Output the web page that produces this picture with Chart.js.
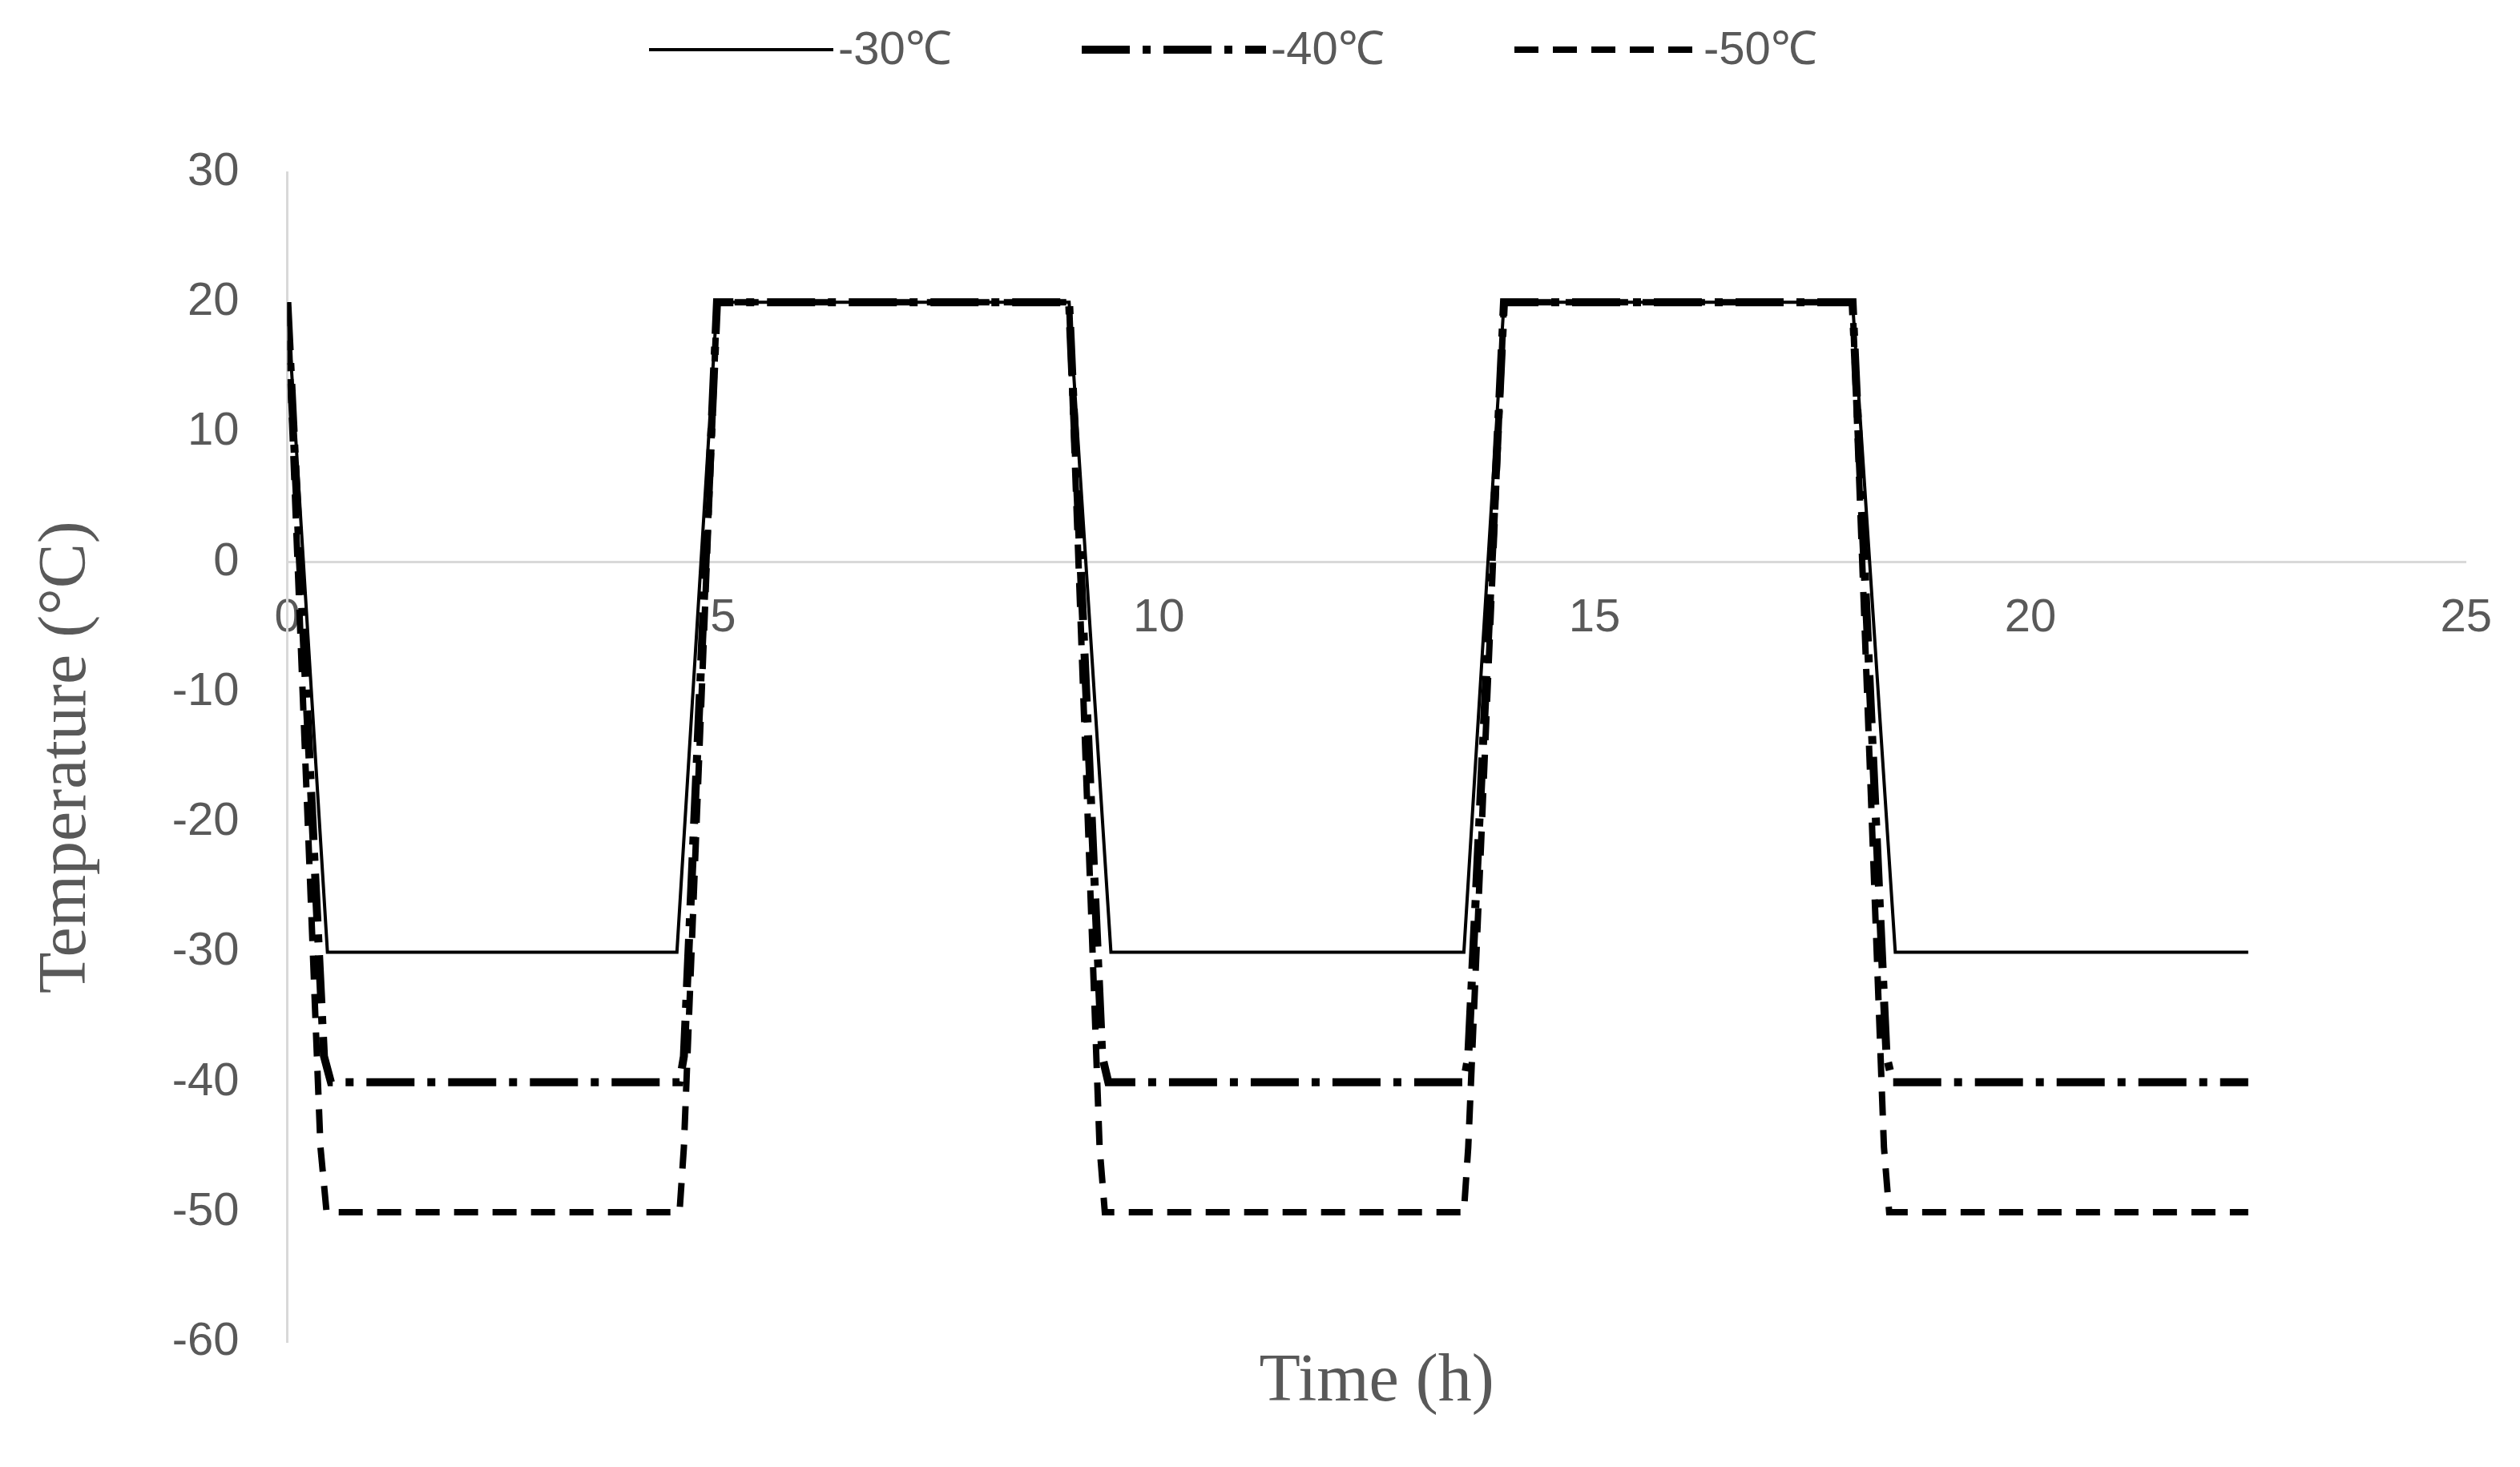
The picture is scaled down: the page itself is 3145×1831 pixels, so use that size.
<!DOCTYPE html>
<html><head><meta charset="utf-8">
<script src="https://cdn.jsdelivr.net/npm/chart.js@4"></script>
<style>html,body{margin:0;background:#fff}#w{width:3145px;height:1831px}</style>
</head><body><div id="w"><canvas id="c"></canvas></div>
<script>
const labels30 = ["-30℃"], labels40 = ["-40℃"], labels50 = ["-50℃"];
const t30 = [0,0.46,4.47,4.93,8.97,9.45,13.5,13.96,17.96,18.45,22.5];
const v30 = [20,-30,-30,20,20,-30,-30,20,20,-30,-30];
const t40 = [0,0.42,0.5,4.5,4.55,4.93,8.97,9.35,9.42,13.5,13.55,13.96,17.96,18.35,18.42,22.5];
const v40 = [20,-38,-40,-40,-38,20,20,-38,-40,-40,-38,20,20,-38,-40,-40];
const t50 = [0,0.38,0.45,4.5,4.55,4.93,8.97,9.32,9.38,13.5,13.55,13.96,17.96,18.32,18.38,22.5];
const v50 = [20,-45,-50,-50,-45,20,20,-45,-50,-50,-45,20,20,-45,-50,-50];
const pts=(t,v)=>t.map((x,i)=>({x,y:v[i]}));
const grey='#595959';
const legendPos=[810,1350,1890];
const legendPlugin={id:'lg',afterDraw(chart){
 const ctx=chart.ctx;ctx.save();
 chart.data.datasets.forEach((ds,i)=>{
  const x=legendPos[i],y=62;
  ctx.strokeStyle=ds.borderColor;ctx.lineWidth=ds.borderWidth;ctx.setLineDash(ds.borderDash||[]);
  ctx.beginPath();ctx.moveTo(x,y);ctx.lineTo(x+230,y);ctx.stroke();
  ctx.setLineDash([]);ctx.fillStyle=grey;ctx.font='58px "Liberation Sans"';ctx.textBaseline='middle';
  ctx.fillText(ds.label,x+236,y+2);
 });ctx.restore();}};
new Chart(document.getElementById('c'),{
 type:'line',
 data:{datasets:[
  {label:labels30[0],data:pts(t30,v30),borderColor:'#000',borderWidth:4,pointRadius:0,tension:0},
  {label:labels40[0],data:pts(t40,v40),borderColor:'#000',borderWidth:10,borderDash:[60,16,10,16],pointRadius:0,tension:0},
  {label:labels50[0],data:pts(t50,v50),borderColor:'#000',borderWidth:8,borderDash:[30,18],pointRadius:0,tension:0}
 ]},
 options:{responsive:true,maintainAspectRatio:false,animation:false,
  layout:{padding:{left:30,right:60,top:215,bottom:55}},
  plugins:{legend:{display:false},tooltip:{enabled:false}},
  scales:{
   x:{type:'linear',min:0,max:25,position:{y:0},
    ticks:{stepSize:5,color:grey,font:{size:58,family:'Liberation Sans'},padding:35},
    grid:{display:false,drawTicks:false},border:{color:'#d9d9d9',width:3}},
   x2:{type:'linear',min:0,max:25,position:'bottom',ticks:{display:false},grid:{display:false,drawTicks:false},border:{display:false},
    title:{display:true,text:'Time (h)',color:grey,font:{size:84,family:'Liberation Serif'},padding:{top:0,bottom:0}}},
   y:{min:-60,max:30,ticks:{stepSize:10,color:grey,font:{size:58,family:'Liberation Sans'},padding:60},
    grid:{display:false,drawTicks:false},border:{color:'#d9d9d9',width:3},
    title:{display:true,text:'Temperature (°C)',color:grey,font:{size:84,family:'Liberation Serif'},padding:{bottom:20}}}
  }},
 plugins:[legendPlugin]
});
</script></body></html>
